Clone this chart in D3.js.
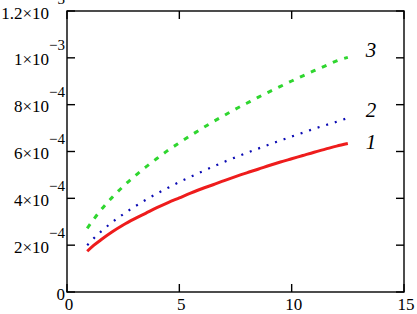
<!DOCTYPE html>
<html>
<head>
<meta charset="utf-8">
<script src="https://cdn.jsdelivr.net/npm/d3@7"></script>
<style>
  body { margin: 0; background: #fff; }
</style>
</head>
<body>
<div id="chart"></div>
<script>
// time values shared by the three curves
let xs = [0.9, 1.2, 1.5, 2, 2.5, 3, 3.5, 4, 4.5, 5, 5.5, 6, 6.5, 7, 7.5, 8, 8.5, 9, 9.5, 10, 10.5, 11, 11.5, 12, 12.5]

// values in units of 1e-4
let curve1 = [1.74, 2.0, 2.22, 2.56, 2.86, 3.12, 3.36, 3.6, 3.82, 4.02, 4.22, 4.41, 4.58, 4.76, 4.93, 5.09, 5.24, 5.4, 5.55, 5.69, 5.83, 5.97, 6.1, 6.23, 6.34]
let curve2 = [2.0, 2.3, 2.57, 2.97, 3.32, 3.64, 3.93, 4.2, 4.45, 4.7, 4.92, 5.14, 5.35, 5.56, 5.75, 5.94, 6.12, 6.3, 6.47, 6.64, 6.8, 6.97, 7.12, 7.27, 7.43]
let curve3 = [2.72, 3.12, 3.49, 4.03, 4.51, 4.94, 5.33, 5.7, 6.05, 6.37, 6.68, 6.98, 7.27, 7.54, 7.81, 8.06, 8.31, 8.55, 8.78, 9.01, 9.23, 9.45, 9.66, 9.87, 10.02]

let xTicks = [0, 5, 10, 15]
let yTicks = [0, 2e-4, 4e-4, 6e-4, 8e-4, 1e-3, 1.2e-3]
let yTickLabels = [['0', ''], ['2×10', '−4'], ['4×10', '−4'], ['6×10', '−4'], ['8×10', '−4'], ['1×10', '−3'], ['1.2×10', '−3']]
let curveLabels = ['1', '2', '3']

let serif = 'Times New Roman, Times, Liberation Serif, DejaVu Serif, Noto Serif, serif'

let margin = { top: 11, bottom: 22, left: 67, right: 13 }
let width = 417 - margin.left - margin.right
let height = 314 - margin.top - margin.bottom

let svg = d3
  .select('#chart')
  .append('svg')
  .attr('width', width + margin.left + margin.right)
  .attr('height', height + margin.top + margin.bottom)
  .style('font-family', serif)
  .append('g')
  .attr('transform', `translate(${margin.left},${margin.top})`)

let xPositionScale = d3.scaleLinear().domain([0, 15]).range([0, width])
let yPositionScale = d3.scaleLinear().domain([0, 1.2e-3]).range([height, 0])

let series = [
  { label: curveLabels[0], values: curve1, color: '#ee1c1c', dash: null, w: 3 },
  { label: curveLabels[1], values: curve2, color: '#0a0ab4', dash: '2,7', w: 2.2 },
  { label: curveLabels[2], values: curve3, color: '#2fd62f', dash: '5,7', w: 3 }
]

let line = d3
  .line()
  .x(d => xPositionScale(d[0]))
  .y(d => yPositionScale(d[1] * 1e-4))
  .curve(d3.curveMonotoneX)

svg
  .selectAll('.curve')
  .data(series)
  .enter()
  .append('path')
  .attr('class', 'curve')
  .attr('d', d => line(xs.map((x, i) => [x, d.values[i]])))
  .attr('fill', 'none')
  .attr('stroke', d => d.color)
  .attr('stroke-width', d => d.w)
  .attr('stroke-dasharray', d => d.dash)

// curve numbers, placed right of the last point
let labelDy = { '1': 5, '2': -1, '3': 0 }
svg
  .selectAll('.curve-label')
  .data(series)
  .enter()
  .append('text')
  .attr('class', 'curve-label')
  .text(d => d.label)
  .attr('x', xPositionScale(13.3))
  .attr('y', d => yPositionScale(d.values[d.values.length - 1] * 1e-4) + labelDy[d.label])
  .attr('font-size', 21)
  .attr('font-style', 'italic')

// frame with inward ticks on all four sides
let tick = 8
let frame = svg.append('g').attr('stroke', '#000').attr('stroke-width', 1.4)

frame
  .append('rect')
  .attr('width', width)
  .attr('height', height)
  .attr('fill', 'none')

xTicks.forEach(t => {
  let x = xPositionScale(t)
  frame.append('line').attr('x1', x).attr('x2', x).attr('y1', height).attr('y2', height - tick)
  frame.append('line').attr('x1', x).attr('x2', x).attr('y1', 0).attr('y2', tick)
})

yTicks.forEach(t => {
  let y = yPositionScale(t)
  frame.append('line').attr('x1', 0).attr('x2', tick).attr('y1', y).attr('y2', y)
  frame.append('line').attr('x1', width).attr('x2', width - tick).attr('y1', y).attr('y2', y)
})

svg
  .selectAll('.x-label')
  .data(xTicks)
  .enter()
  .append('text')
  .attr('class', 'x-label')
  .text(d => d)
  .attr('x', d => xPositionScale(d) + 2)
  .attr('y', height + 18)
  .attr('text-anchor', 'middle')
  .attr('font-size', 17)

let yLabels = svg
  .selectAll('.y-label')
  .data(yTicks)
  .enter()
  .append('text')
  .attr('class', 'y-label')
  .attr('x', -2)
  .attr('y', d => yPositionScale(d) + 7.5)
  .attr('text-anchor', 'end')
  .attr('font-size', 17)

yLabels.append('tspan').text((d, i) => yTickLabels[i][0])
yLabels
  .append('tspan')
  .text((d, i) => yTickLabels[i][1])
  .attr('dy', -15)
  .attr('font-size', 15)
</script>
</body>
</html>
